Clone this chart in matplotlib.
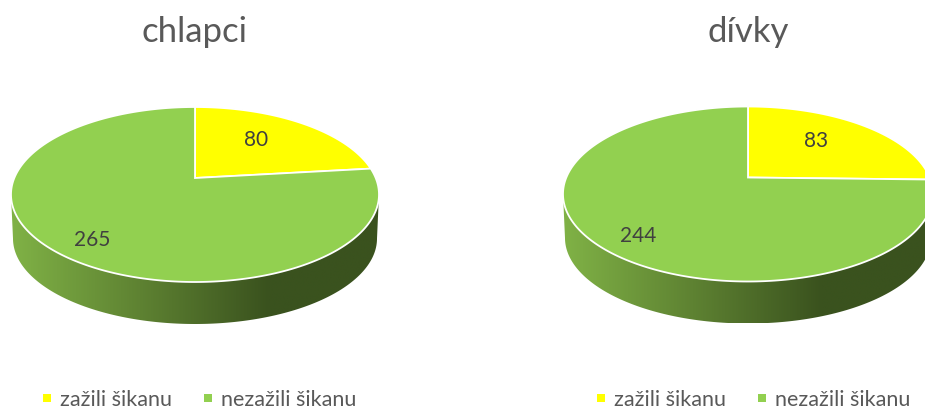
import numpy as np
import matplotlib
matplotlib.use('Agg')
import matplotlib.pyplot as plt
from matplotlib.colors import LinearSegmentedColormap
from matplotlib.lines import Line2D
from matplotlib.patches import Polygon

plt.rcParams['font.family'] = ['Lato', 'DejaVu Sans']

# Data
titles = ['chlapci', 'dívky']
categories = ['zažili šikanu', 'nezažili šikanu']
boys = [80, 265]
girls = [83, 244]

# Colours
colors = ['#FFFF00', '#92D050']
text_dark = '#404040'
text_grey = '#595959'
side_cmap = LinearSegmentedColormap.from_list(
    'side', [(0, '#80B246'), (0.35, '#5E8232'), (0.7, '#3A521E'), (1, '#3A521E')])


def project(theta, cx, cy, a, b, lift):
    # circle seen in perspective, theta clockwise from the top; the circle
    # centre lands above the ellipse centre
    d = lift / b
    x = np.sin(theta)
    y = np.cos(theta)
    den = 1 + d * y
    return cx + a * np.sqrt(1 - d ** 2) * x / den, cy - (b * y + lift) / den


def draw_pie(ax, values, cx, cy, a, b):
    lift = 16.5
    depth = 42

    # side wall: gradient image clipped to the band below the top ellipse
    t = np.linspace(0, np.pi, 200)
    top_x = cx - a * np.cos(t)
    top_y = cy - b * np.sin(t)
    low_x = cx + (a - 2) * np.cos(t)
    low_y = cy + depth + 2 + (b - 2) * np.sin(t)
    clip = Polygon(np.column_stack([np.r_[top_x, low_x], np.r_[top_y, low_y]]),
                   transform=ax.transData, facecolor='none', edgecolor='none')
    ax.add_patch(clip)
    grad = np.linspace(0, 1, 256).reshape(1, -1)
    im = ax.imshow(grad, cmap=side_cmap, aspect='auto', zorder=1,
                   extent=[cx - a, cx + a, cy + depth + b, cy - b])
    im.set_clip_path(clip)

    # top face, one wedge per value
    edges = np.r_[0, np.cumsum(values)] / np.sum(values) * 2 * np.pi
    for i in range(len(values)):
        t = np.linspace(edges[i], edges[i + 1], 300)
        x, y = project(t, cx, cy, a, b, lift)
        ax.fill(np.r_[cx, x], np.r_[cy - lift, y], facecolor=colors[i],
                edgecolor='white', linewidth=1.3, joinstyle='miter', zorder=2)


fig = plt.figure(figsize=(9.25, 4.08), dpi=100)
ax1 = fig.add_axes([0, 0, 0.5, 1])
ax2 = fig.add_axes([0.5, 0, 0.5, 1])

draw_pie(ax1, boys, 195, 194.5, 184, 87.5)
draw_pie(ax2, girls, 748, 194, 185, 87.5)

ax1.set_xlim(0, 462.5)
ax2.set_xlim(462.5, 925)
for ax in (ax1, ax2):
    ax.set_ylim(408, 0)
    ax.axis('off')

ax1.text(194.5, 32, titles[0], ha='center', va='center', fontsize=25, color=text_grey)
ax2.text(748.5, 32, titles[1], ha='center', va='center', fontsize=25, color=text_grey)

ax1.text(256, 140, str(boys[0]), ha='center', va='center', fontsize=15, color=text_dark, zorder=3)
ax1.text(92, 240, str(boys[1]), ha='center', va='center', fontsize=15, color=text_dark, zorder=3)
ax2.text(816, 141, str(girls[0]), ha='center', va='center', fontsize=15, color=text_dark, zorder=3)
ax2.text(638, 236, str(girls[1]), ha='center', va='center', fontsize=15, color=text_dark, zorder=3)

handles = [Line2D([], [], linestyle='none', marker='s', markersize=5.5,
                  markeredgewidth=0, color=c, label=n)
           for c, n in zip(colors, categories)]
for ax, xc in ((ax1, 197.7), (ax2, 751.7)):
    ax.legend(handles=handles, ncol=2, loc='center', bbox_to_anchor=(xc, 400),
              bbox_transform=ax.transData, frameon=False, fontsize=15.5,
              labelcolor=text_grey, handlelength=0.8, handletextpad=0.2,
              columnspacing=1.27, borderpad=0, borderaxespad=0)

fig.savefig('out.png', dpi=100)
